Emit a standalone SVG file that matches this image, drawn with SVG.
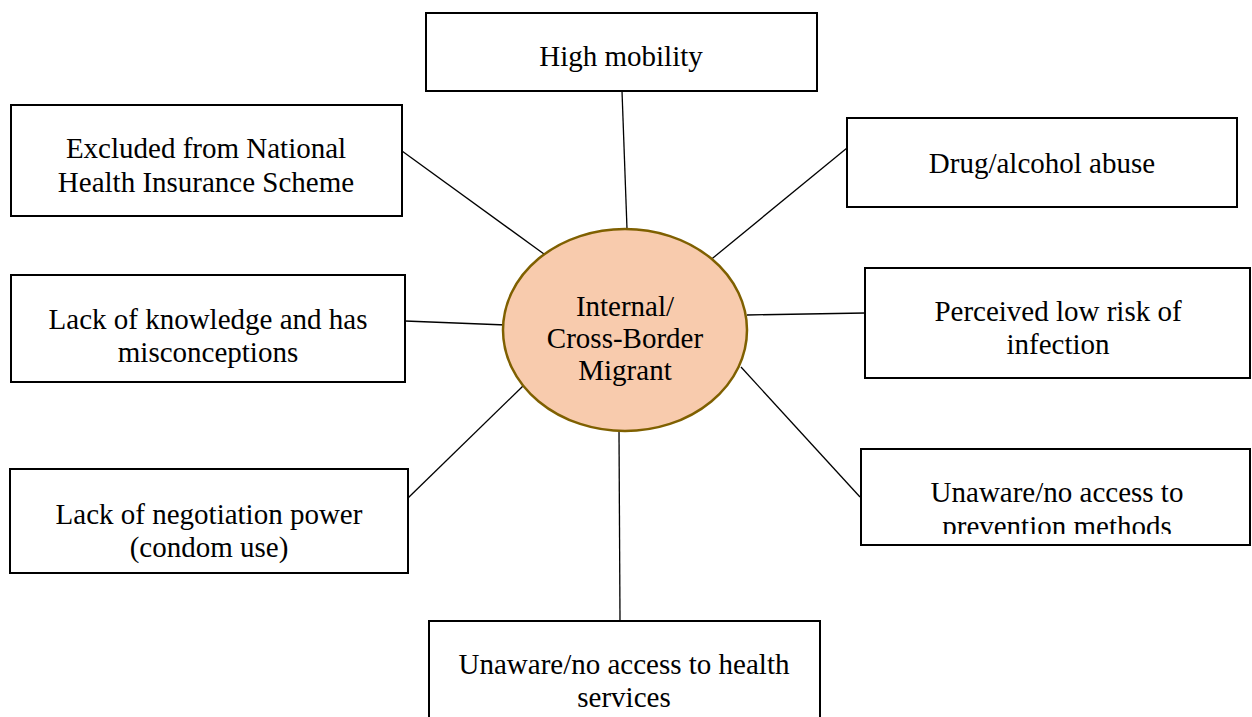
<svg xmlns="http://www.w3.org/2000/svg" width="1252" height="717" viewBox="0 0 1252 717">
  <style>
    .box { fill: #ffffff; stroke: #000000; stroke-width: 2; }
    .lbl { font-family: "Liberation Serif", "Times New Roman", serif; font-size: 29px; fill: #000000; text-anchor: middle; }
    .link { stroke: #000000; stroke-width: 1.3; fill: none; }
    .hub { fill: #F8CBAD; stroke: #7F6000; stroke-width: 2.5; }
  </style>
  <defs>
    <!-- text box interior: overflowing second line is cut off -->
    <clipPath id="clipPrevention">
      <rect x="862" y="450" width="388" height="84"/>
    </clipPath>
  </defs>
  <rect width="1252" height="717" fill="#ffffff"/>

  <!-- spokes from the central migrant node -->
  <g id="connectors">
    <line class="link" x1="622" y1="91" x2="627" y2="229"/>
    <line class="link" x1="847" y1="148" x2="708" y2="262"/>
    <line class="link" x1="865" y1="313" x2="747" y2="315"/>
    <line class="link" x1="860" y1="497" x2="741" y2="367"/>
    <line class="link" x1="620" y1="621" x2="619" y2="431"/>
    <line class="link" x1="408" y1="498" x2="523" y2="386"/>
    <line class="link" x1="405" y1="321" x2="506" y2="325"/>
    <line class="link" x1="402" y1="151" x2="544" y2="254"/>
  </g>

  <g id="node-high-mobility">
    <rect class="box" x="426" y="13" width="391" height="78"/>
    <text class="lbl" x="621" y="66">High mobility</text>
  </g>

  <g id="node-excluded-nhis">
    <rect class="box" x="11" y="105" width="391" height="111"/>
    <text class="lbl" x="206" y="158">Excluded from National</text>
    <text class="lbl" x="206" y="192">Health Insurance Scheme</text>
  </g>

  <g id="node-drug-alcohol">
    <rect class="box" x="847" y="118" width="390" height="89"/>
    <text class="lbl" x="1042" y="173">Drug/alcohol abuse</text>
  </g>

  <g id="node-lack-knowledge">
    <rect class="box" x="11" y="275" width="394" height="107"/>
    <text class="lbl" x="208" y="329">Lack of knowledge and has</text>
    <text class="lbl" x="208" y="362">misconceptions</text>
  </g>

  <g id="node-perceived-risk">
    <rect class="box" x="865" y="268" width="385" height="110"/>
    <text class="lbl" x="1058" y="321">Perceived low risk of</text>
    <text class="lbl" x="1058" y="354">infection</text>
  </g>

  <g id="node-negotiation">
    <rect class="box" x="10" y="469" width="398" height="104"/>
    <text class="lbl" x="209" y="524">Lack of negotiation power</text>
    <text class="lbl" x="209" y="557">(condom use)</text>
  </g>

  <g id="node-prevention">
    <rect class="box" x="861" y="449" width="389" height="96"/>
    <g clip-path="url(#clipPrevention)">
      <text class="lbl" x="1057" y="502">Unaware/no access to</text>
      <text class="lbl" x="1057" y="536">prevention methods</text>
    </g>
  </g>

  <g id="node-health-services">
    <rect class="box" x="429" y="621" width="391" height="110"/>
    <text class="lbl" x="624" y="674">Unaware/no access to health</text>
    <text class="lbl" x="624" y="707">services</text>
  </g>

  <g id="node-migrant">
    <ellipse class="hub" cx="625" cy="330" rx="122" ry="101"/>
    <text class="lbl" x="625" y="316">Internal/</text>
    <text class="lbl" x="625" y="348">Cross-Border</text>
    <text class="lbl" x="625" y="380">Migrant</text>
  </g>
</svg>
